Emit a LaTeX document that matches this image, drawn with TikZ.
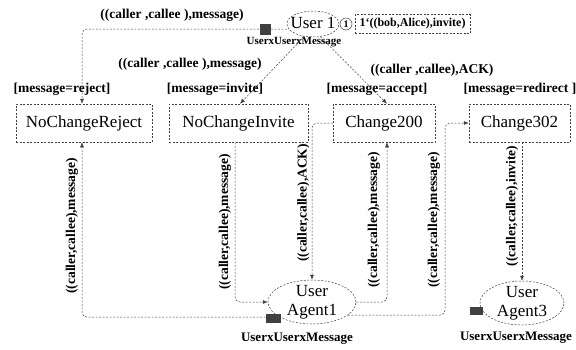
\documentclass[tikz,border=0pt]{standalone}
\usepackage{fontspec}
\setmainfont{Liberation Serif}
\usetikzlibrary{shapes.geometric,arrows.meta}
\begin{document}
\begin{tikzpicture}[x=1pt,y=-1pt,
  arc/.style={draw=black!75, line width=0.5pt, dash pattern=on 2pt off 1.5pt, rounded corners=5pt},
  arr/.style={arc,-{Latex[length=5pt,width=4pt]}},
  trans/.style={draw=black!75, dash pattern=on 2pt off 1.5pt, line width=0.5pt, rectangle, inner sep=0, minimum height=38, font=\fontsize{17}{19}\selectfont},
  place/.style={draw=black!75, dash pattern=on 2pt off 1.5pt, line width=0.5pt, ellipse, inner sep=0},
  pname/.style={font=\fontsize{17}{19}\selectfont, align=center, inner sep=0},
  lbl/.style={font=\bfseries\fontsize{13.5}{15}\selectfont, inner sep=0},
  vlbl/.style={lbl, rotate=90},
  tok/.style={fill=black!75, inner sep=0},
  cset/.style={font=\bfseries\fontsize{13}{15}\selectfont, inner sep=0}
]
\useasboundingbox (0,0) rectangle (576,349);

% places
\node[place, minimum width=52, minimum height=26] (u1) at (313,24) {};
\node[pname] (u1t) at (313,23) {User 1};
\node[draw=black!75, circle, line width=0.5pt, minimum size=12, inner sep=0, font=\bfseries\fontsize{10}{11}\selectfont] (u1n) at (346,24) {1};
\node[draw=black!75, dash pattern=on 2pt off 1.5pt, line width=0.5pt, rectangle, minimum width=115, minimum height=19, inner sep=0, font=\bfseries\fontsize{12}{14}\selectfont] (u1m) at (412.5,24) {1`((bob,Alice),invite)};
\node[tok, minimum width=11, minimum height=11] (u1k) at (265,29) {};
\node[cset, font=\bfseries\fontsize{11}{13}\selectfont] (u1c) at (294,42) {UserxUserxMessage};

\node[place, minimum width=88, minimum height=44] (ua1) at (312,302) {};
\node[pname] (ua1t) at (312,302) {User\\Agent1};
\node[tok, minimum width=15, minimum height=9] (ua1k) at (273,318) {};
\node[cset] (ua1c) at (297,339) {UserxUserxMessage};

\node[place, minimum width=84, minimum height=44] (ua3) at (522,303) {};
\node[pname] (ua3t) at (522,303) {User\\Agent3};
\node[tok, minimum width=13, minimum height=8] (ua3k) at (476,311) {};
\node[cset] (ua3c) at (516,338) {UserxUserxMessage};

% transitions
\node[trans, minimum width=136] (ncr) at (84,123) {NoChangeReject};
\node[trans, minimum width=139] (nci) at (238.5,123) {NoChangeInvite};
\node[trans, minimum width=102] (c200) at (384,123) {Change200};
\node[trans, minimum width=101] (c302) at (519.5,123) {Change302};

% guards
\node[lbl] (g1) at (62,89) {[message=reject]};
\node[lbl] (g2) at (215,89) {[message=invite]};
\node[lbl] (g3) at (377,89) {[message=accept]};
\node[lbl] (g4) at (520,89) {[message=redirect ]};

% helper coordinates
\coordinate (ca) at (82,29);
\coordinate (xa) at (387,0);
\coordinate (xe) at (235,0);
\coordinate (xh) at (445,0);

% arcs
\draw[arr] (u1.west |- ca) -- (ca) -- (ncr.north -| ca);
\draw[arr] (u1.235) -- ([xshift=1.5pt]nci.north);
\draw[arr] (u1.300) -- (c200.north -| xa);
\draw[arr] (ua1.205) -- (ua1.205 -| ca) -- (ncr.south -| ca);
\draw[arr] (nci.south -| xe) -- (xe |- ua1.west) -- (ua1.west);
\draw[arr] (c200.west) -- (c200.west -| ua1.north) -- (ua1.north);
\draw[arr] (ua1.east) -- (ua1.east -| xa) -- (c200.south -| xa);
\draw[arr] (ua1.340) -- (ua1.340 -| xh) -- (xh |- c302.west) -- (c302.west);
\draw[arr] (c302.south -| ua3.north) -- (ua3.north);

% arc labels
\node[lbl] (l1) at (172,15) {((caller ,callee ),message)};
\node[lbl] (l2) at (190,64) {((caller ,callee ),message)};
\node[lbl] (l3) at (432,70) {((caller ,callee),ACK)};
\node[vlbl] (l4) at (72,226) {((caller,callee),message)};
\node[vlbl] (l5) at (225,222) {((caller,callee),message)};
\node[vlbl] (l6) at (303.5,203) {((caller,callee),ACK)};
\node[vlbl] (l7) at (374,220) {((caller,callee),message)};
\node[vlbl] (l8) at (434,220) {((caller,callee),message)};
\node[vlbl] (l9) at (512,206) {((caller,callee),invite)};
\end{tikzpicture}
\end{document}
